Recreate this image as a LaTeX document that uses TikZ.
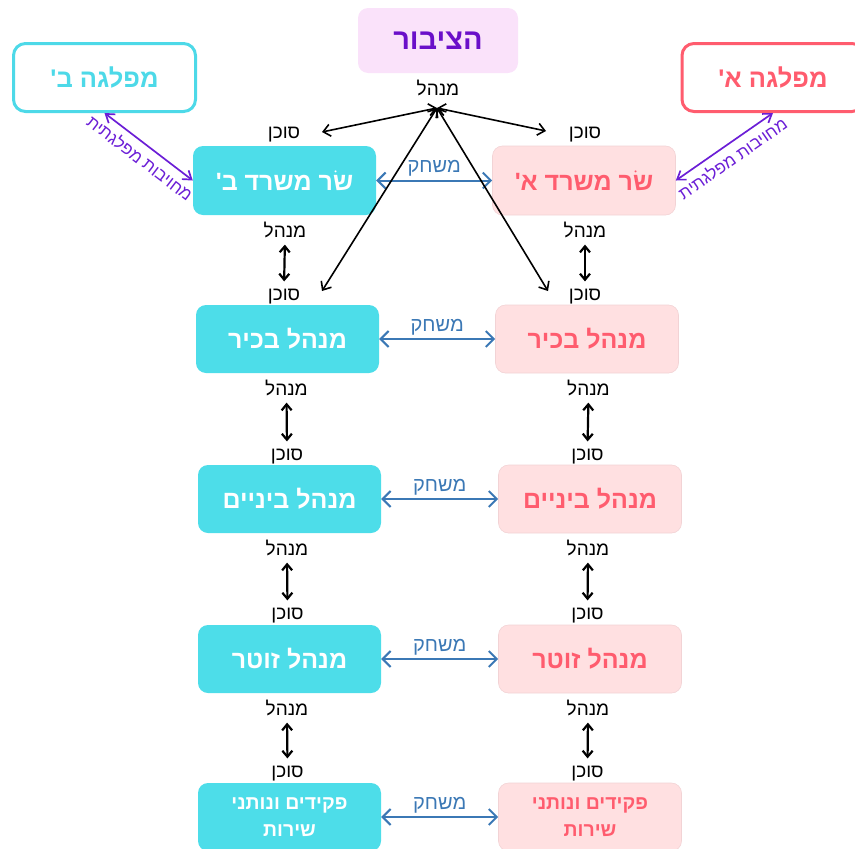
\documentclass[tikz,border=0pt]{standalone}
\usepackage{fontspec}
\usetikzlibrary{arrows.meta}
\newfontfamily\heb[Script=Hebrew]{Liberation Sans}
\TeXXeTstate=1
\newcommand\HB[1]{\beginR #1\endR}
\definecolor{cyanF}{HTML}{4DDDE9}
\definecolor{cyanB}{HTML}{4DD9E8}
\definecolor{pinkF}{HTML}{FFE0E1}
\definecolor{pinkB}{HTML}{F2D3D5}
\definecolor{coral}{HTML}{FF5C6E}
\definecolor{pubF}{HTML}{FAE2FA}
\definecolor{pubT}{HTML}{6A0FC9}
\definecolor{purpA}{HTML}{6B1ED6}
\definecolor{blueA}{HTML}{3B78B5}
\begin{document}
\begin{tikzpicture}[x=1pt,y=-1pt,
  box/.style={rounded corners=10pt, minimum width=183pt, minimum height=68pt, inner sep=0pt, align=center, font=\heb\bfseries\fontsize{25}{30}\selectfont},
  bbox/.style={box, fill=cyanF, text=white},
  abox/.style={box, fill=pinkF, draw=pinkB, line width=0.6pt, text=coral},
  smalltext/.style={font=\heb\bfseries\fontsize{19.5}{27}\selectfont},
  pubbox/.style={box, minimum width=160pt, minimum height=65pt, fill=pubF, text=pubT, font=\heb\bfseries\fontsize{29}{34}\selectfont},
  partyB/.style={box, minimum width=182pt, minimum height=68pt, fill=white, draw=cyanB, line width=3pt, text=cyanB, rounded corners=12pt, font=\heb\bfseries\fontsize{25.5}{30}\selectfont},
  partyA/.style={box, minimum width=182pt, minimum height=68pt, fill=white, draw=coral, line width=3pt, text=coral, rounded corners=12pt, font=\heb\bfseries\fontsize{25.5}{30}\selectfont},
  lbl/.style={anchor=base, inner sep=0pt, font=\heb\fontsize{19}{22}\selectfont, text=black},
  blbl/.style={inner sep=0pt, font=\heb\fontsize{20}{23}\selectfont, text=blueA},
  plbl/.style={inner sep=6pt, font=\heb\fontsize{17}{20}\selectfont, text=purpA},
  blk/.style={draw=black, line width=1.6pt, {Straight Barb[length=7pt,width=12pt]}-{Straight Barb[length=7pt,width=12pt]}},
  vert/.style={draw=black, line width=2.2pt, shorten <=7pt, shorten >=7pt, {Straight Barb[length=6pt,width=10pt]}-{Straight Barb[length=6pt,width=10pt]}},
  game/.style={draw=blueA, line width=2pt, {Straight Barb[length=8pt,width=16pt]}-{Straight Barb[length=8pt,width=16pt]}},
  party/.style={draw=purpA, line width=1.7pt, {Straight Barb[length=8pt,width=11pt]}-{Straight Barb[length=8pt,width=11pt]}}
]
\useasboundingbox (0,0) rectangle (855,849);
% top
\node[pubbox] (pub) at (438,40.5) {\HB{הציבור}};
\node[partyB] (pb) at (104.5,77.5) {\HB{מפלגה ב'}};
\node[partyA] (pa) at (773,77.5) {\HB{מפלגה א'}};
% boxes
\node[bbox, minimum height=69pt] (b1) at (284.5,180.5) {\HB{שׂר משרד ב'}};
\node[abox, minimum height=69pt] (a1) at (584,180.5) {\HB{שׂר משרד א'}};
\node[bbox] (b2) at (287.5,339) {\HB{מנהל בכיר}};
\node[abox] (a2) at (587,339) {\HB{מנהל בכיר}};
\node[bbox] (b3) at (289.5,499) {\HB{מנהל ביניים}};
\node[abox] (a3) at (590,499) {\HB{מנהל ביניים}};
\node[bbox] (b4) at (289.5,659) {\HB{מנהל זוטר}};
\node[abox] (a4) at (590,659) {\HB{מנהל זוטר}};
\node[bbox, smalltext] (b5) at (289.5,817) {\HB{פקידים ונותני}\\\HB{שירות}};
\node[abox, smalltext] (a5) at (590,817) {\HB{פקידים ונותני}\\\HB{שירות}};
% labels
\node[lbl] (pubm) at (438,95) {\HB{מנהל}};
\node[lbl] (sb1) at (284,138) {\HB{סוכן}};
\node[lbl] (sa1) at (585,138) {\HB{סוכן}};
\node[lbl] (mb1) at (285,237) {\HB{מנהל}};
\node[lbl] (ma1) at (585,237) {\HB{מנהל}};
\node[lbl] (sb2) at (284,300) {\HB{סוכן}};
\node[lbl] (sa2) at (585,300) {\HB{סוכן}};
\node[lbl] (mb2) at (286.5,395) {\HB{מנהל}};
\node[lbl] (ma2) at (588.5,395) {\HB{מנהל}};
\node[lbl] (sb3) at (287,460) {\HB{סוכן}};
\node[lbl] (sa3) at (587.5,460) {\HB{סוכן}};
\node[lbl] (mb3) at (287,555) {\HB{מנהל}};
\node[lbl] (ma3) at (588,555) {\HB{מנהל}};
\node[lbl] (sb4) at (287.5,619) {\HB{סוכן}};
\node[lbl] (sa4) at (587.5,619) {\HB{סוכן}};
\node[lbl] (mb4) at (287,715) {\HB{מנהל}};
\node[lbl] (ma4) at (588,715) {\HB{מנהל}};
\node[lbl] (sb5) at (287.5,777) {\HB{סוכן}};
\node[lbl] (sa5) at (587.5,777) {\HB{סוכן}};
% vertical arrows
\foreach \m/\s in {mb1/sb2,ma1/sa2,mb2/sb3,ma2/sa3,mb3/sb4,ma3/sa4,mb4/sb5,ma4/sa5}
  \draw[vert] (\m.south) -- (\s.north);
% game arrows
\foreach \i in {1,...,5}
  \draw[game] (b\i.east) -- node[blbl, midway, yshift=12pt] {\HB{משחק}} (a\i.west);
% public arrows
\coordinate (apex) at (437,108);
\coordinate (tL1) at (322,132);
\coordinate (tR1) at (546,131);
\coordinate (tL2) at (322,291);
\coordinate (tR2) at (548,291);
\foreach \t in {tL1,tR1,tL2,tR2}
  \draw[blk] (apex) -- (\t);
% party arrows
\draw[party] (pb.south) -- node[plbl, midway, sloped, below] {\HB{מחויבות מפלגתית}} (b1.west);
\draw[party] (a1.east) -- node[plbl, midway, sloped, below] {\HB{מחויבות מפלגתית}} (pa.south);
\end{tikzpicture}
\end{document}
